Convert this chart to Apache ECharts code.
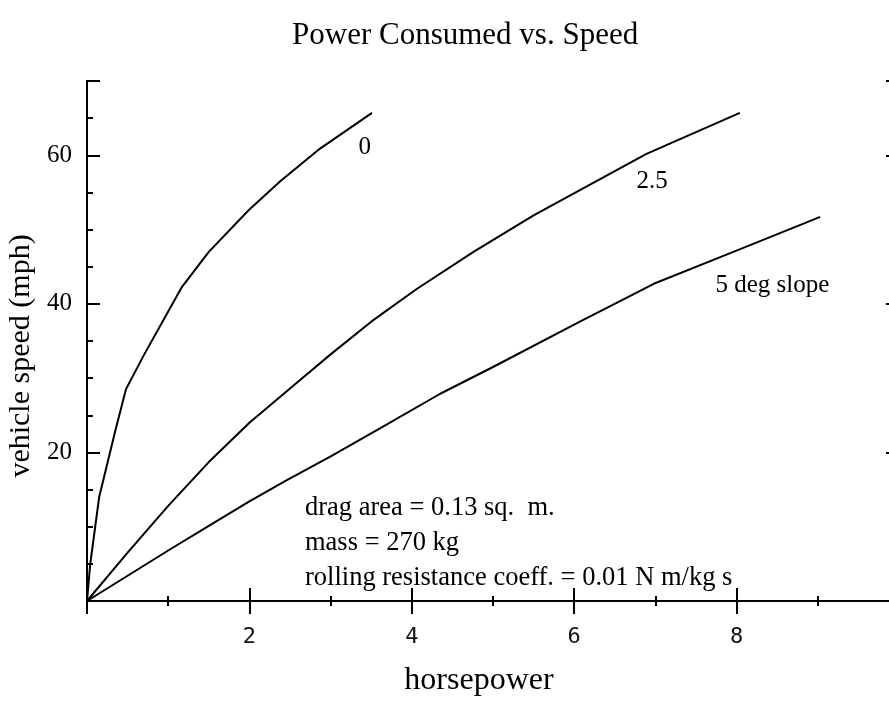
<!DOCTYPE html>
<html>
<head>
<meta charset="utf-8">
<script src="https://cdn.jsdelivr.net/npm/echarts@6/dist/echarts.min.js"></script>
<style>
  html, body { margin: 0; padding: 0; background: #fff; }
  #chart { width: 889px; height: 702px; }
</style>
</head>
<body>
<div id="chart"></div>
<script>
// horsepower vs speed (mph), one curve per road slope
const slope0 = [[0, 0], [0.04, 5.0], [0.15, 14.0], [0.35, 23.0], [0.48, 28.5], [0.70, 33.1], [0.94, 37.8],
  [1.17, 42.3], [1.50, 47.0], [1.99, 52.6], [2.38, 56.5], [2.87, 60.9], [3.51, 65.7]];
const slope25 = [[0, 0], [0.5, 6.5], [1.0, 12.8], [1.5, 18.7], [2.0, 24.0], [2.5, 28.6], [3.0, 33.2],
  [3.5, 37.6], [4.06, 42.0], [4.76, 47.0], [5.5, 51.9], [6.07, 55.3], [6.89, 60.2], [8.04, 65.7]];
const slope5 = [[0, 0], [0.5, 3.4], [1.0, 6.8], [1.5, 10.1], [2.0, 13.4], [2.45, 16.2], [2.99, 19.4],
  [3.57, 23.0], [4.35, 27.9], [5.0, 31.5], [6.07, 37.6], [6.98, 42.7], [7.96, 47.0], [9.03, 51.7]];

// curve labels, anchored in data space
const curveLabels = [
  { name: '0', value: [3.42, 61.0] },
  { name: '2.5', value: [6.96, 56.5] },
  { name: '5 deg slope', value: [8.44, 42.5] }
];

const notes = [
  'drag area = 0.13 sq.  m.',
  'mass = 270 kg',
  'rolling resistance coeff. = 0.01 N m/kg s'
];

const xTicks = [2, 4, 6, 8];
const yTicks = [20, 40, 60];

const serif = '"Liberation Serif", "Times New Roman", serif';
const lineColor = '#000';

const chart = echarts.init(document.getElementById('chart'));

const tickLabel = (list) => (v) => (list.includes(v) ? String(v) : '');

const xBase = {
  type: 'value',
  min: 0,
  max: 10,
  interval: 2,
  axisLine: { show: true, lineStyle: { color: lineColor, width: 2 } },
  axisTick: { show: true, inside: true, length: 13, lineStyle: { color: lineColor, width: 2 } },
  minorTick: { show: true, splitNumber: 2, length: 5, lineStyle: { color: lineColor, width: 2 } },
  splitLine: { show: false }
};

const yBase = {
  type: 'value',
  min: 0,
  max: 70,
  axisLine: { show: true, lineStyle: { color: lineColor, width: 2 } },
  axisTick: { show: true, inside: true, lineStyle: { color: lineColor, width: 2 } },
  splitLine: { show: false }
};

const option = {
  backgroundColor: '#fff',
  animation: false,
  title: {
    text: 'Power Consumed vs. Speed',
    left: 287,
    top: 15,
    textStyle: { fontFamily: serif, fontSize: 31, fontWeight: 'normal', color: '#000' }
  },
  // the plot box runs a little past the right edge of the picture
  grid: { left: 87, top: 81, width: 812, height: 520, containLabel: false, outerBoundsMode: 'none' },
  xAxis: [
    {
      ...xBase,
      position: 'bottom',
      name: 'horsepower',
      nameLocation: 'middle',
      nameGap: 64,
      nameTextStyle: { fontFamily: serif, fontSize: 32, color: '#000', padding: [0, 28, 0, 0] },
      axisLabel: {
        margin: 25,
        fontFamily: '"DejaVu Sans Mono", monospace',
        fontSize: 22,
        color: '#111',
        formatter: tickLabel(xTicks)
      }
    },
    { ...xBase, position: 'top', axisLabel: { show: false } }
  ],
  yAxis: [
    {
      ...yBase,
      position: 'left',
      interval: 20,
      axisTick: { ...yBase.axisTick, length: 13 },
      name: 'vehicle speed (mph)',
      nameLocation: 'middle',
      nameGap: 49,
      nameTextStyle: { fontFamily: serif, fontSize: 30, color: '#000', padding: [0, 30, 0, 0] },
      axisLabel: {
        margin: 15,
        fontFamily: serif,
        fontSize: 25,
        color: '#000',
        formatter: tickLabel(yTicks)
      }
    },
    {
      ...yBase,
      position: 'left',
      interval: 5,
      axisTick: { ...yBase.axisTick, length: 6 },
      axisLabel: { show: false }
    },
    {
      ...yBase,
      position: 'right',
      interval: 20,
      axisTick: { ...yBase.axisTick, length: 13 },
      axisLabel: { show: false }
    }
  ],
  series: [
    { name: '0', data: slope0 },
    { name: '2.5', data: slope25 },
    { name: '5', data: slope5 }
  ].map((s) => ({
    ...s,
    type: 'line',
    showSymbol: false,
    symbol: 'none',
    lineStyle: { color: lineColor, width: 2 },
    itemStyle: { color: lineColor }
  })).concat([{
    type: 'scatter',
    symbolSize: 0,
    data: curveLabels,
    itemStyle: { opacity: 1, color: lineColor },
    label: {
      show: true,
      position: [0, 0],
      align: 'center',
      verticalAlign: 'middle',
      formatter: (p) => p.name,
      fontFamily: serif,
      fontSize: 25,
      color: '#000',
      opacity: 1
    }
  }]),
  graphic: [{
    type: 'text',
    left: 305,
    top: 491,
    style: {
      text: notes.join('\n'),
      font: '26.5px ' + serif,
      lineHeight: 35,
      fill: '#000'
    }
  }]
};

chart.setOption(option);
</script>
</body>
</html>
